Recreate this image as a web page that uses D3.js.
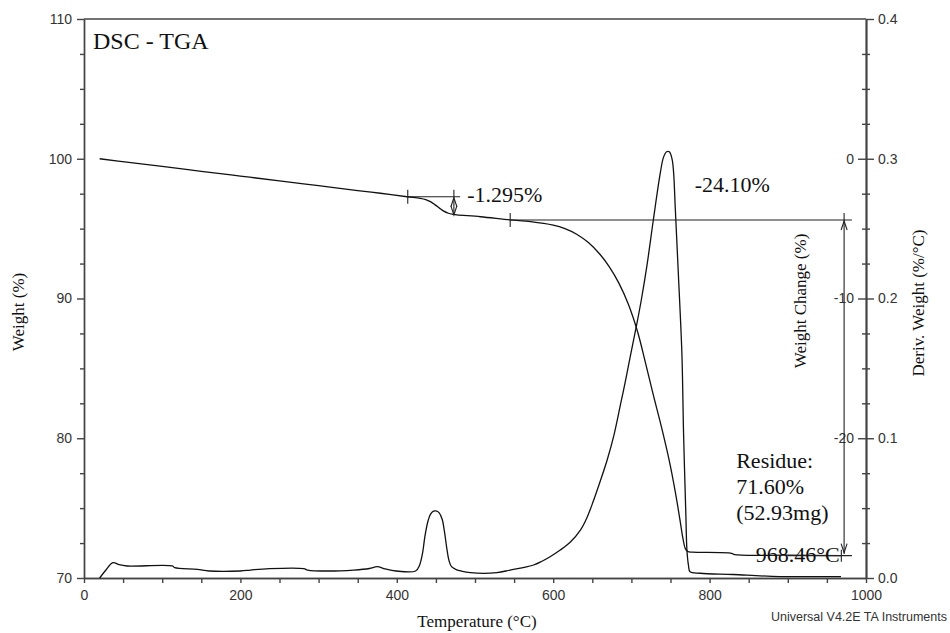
<!DOCTYPE html>
<html>
<head>
<meta charset="utf-8">
<script src="https://cdn.jsdelivr.net/npm/d3@7"></script>
<style>
  html, body { margin: 0; padding: 0; background: #fff; }
  svg { display: block; }
  .tick text { font-family: "Liberation Sans", Arial, sans-serif; font-size: 14px; fill: #333; }
  .axis path, .axis line { stroke: #444; stroke-width: 1.4; }
</style>
</head>
<body>
<svg id="chart" width="950" height="633"></svg>
<script>
// ---------- data ----------
const tgaTemp   = [20, 60, 100, 150, 200, 250, 300, 350, 379, 413, 430, 437, 443, 449, 455, 460, 466, 472, 477, 507, 545, 571, 600, 615, 630, 645, 660, 672, 684, 696, 708, 718, 728, 738, 748, 756, 762, 766, 769, 772, 778, 828, 832, 900, 968];
const tgaWeight = [100, 99.72, 99.45, 99.1, 98.76, 98.42, 98.07, 97.72, 97.53, 97.28, 97.17, 97.08, 96.93, 96.7, 96.45, 96.25, 96.1, 96.02, 95.98, 95.85, 95.62, 95.5, 95.25, 95.0, 94.6, 94.0, 93.15, 92.25, 91.1, 89.6, 87.6, 85.4, 83.1, 80.9, 78.5, 76.2, 74.2, 72.8, 72.1, 71.9, 71.85, 71.77, 71.67, 71.63, 71.6];

const dtgTemp  = [20, 27, 37, 45, 55, 113, 116, 145, 160, 200, 213, 237, 281, 286, 311, 345, 365, 375, 385, 399, 424, 429, 433, 436, 440, 443, 447, 450, 454, 458, 461, 464, 467, 470, 476, 481, 494, 528, 545, 560, 575, 585, 596, 609, 622, 635, 643, 651, 660, 669, 678, 686, 692, 698, 707, 713, 720, 728, 737, 741, 745, 748.5, 752, 754, 756, 760, 764.6, 766.7, 769.7, 771, 773, 775, 788, 830, 880, 968];
const dtgDeriv = [0, 0.005, 0.011, 0.0095, 0.0086, 0.0086, 0.0074, 0.0062, 0.005, 0.005, 0.0057, 0.0067, 0.0067, 0.0057, 0.005, 0.0057, 0.0068, 0.0081, 0.0065, 0.005, 0.005, 0.009, 0.018, 0.03, 0.041, 0.0455, 0.0478, 0.048, 0.0468, 0.042, 0.033, 0.021, 0.012, 0.0081, 0.006, 0.0052, 0.0038, 0.0038, 0.0057, 0.0073, 0.0093, 0.0118, 0.0152, 0.020, 0.0258, 0.0345, 0.043, 0.0545, 0.069, 0.0844, 0.103, 0.124, 0.140, 0.157, 0.182, 0.2, 0.224, 0.256, 0.29, 0.301, 0.305, 0.305, 0.2998, 0.29, 0.266, 0.218, 0.16, 0.1035, 0.044, 0.02, 0.009, 0.0045, 0.0034, 0.0025, 0.0012, 0.001];

const xTicks      = [0, 200, 400, 600, 800, 1000];
const weightTicks = [70, 80, 90, 100, 110];
const derivTicks  = [0, 0.1, 0.2, 0.3, 0.4];
const changeTicks = [-20, -10, 0];

// step annotations (temperature °C, weight %)
const step1 = { start: 414, end: 481, arrowT: 473, wTop: 97.28, wBot: 95.98, label: "-1.295%" };
const step2 = { start: 545, end: 982, arrowT: 972, wTop: 95.62, wBot: 71.6, label: "-24.10%" };
const markerTemps = [414, 545];
const residue = { temp: 968.46, weight: 71.6, lines: ["Residue:", "71.60%", "(52.93mg)"], tempLabel: "968.46°C" };

// ---------- scales ----------
const svg = d3.select("#chart");
const L = 84, R = 866, T = 19, B = 578;
const x  = d3.scaleLinear().domain([0, 1000]).range([L, R]);
const yW = d3.scaleLinear().domain([70, 110]).range([B, T]);
const yD = d3.scaleLinear().domain([0, 0.4]).range([B, T]);
const yC = d3.scaleLinear().domain([-30, 10]).range([B, T]);

svg.append("rect").attr("width", 950).attr("height", 633).attr("fill", "#fff");

// ---------- axes ----------
const minorW = d3.range(70, 110.01, 2.5).filter(v => v % 10 !== 0);
const minorX = d3.range(0, 1000.01, 50).filter(v => v % 200 !== 0);
const minorD = d3.range(0, 16).map(i => i * 0.025).filter((v, i) => i % 4 !== 0);
const minorC = d3.range(-30, 10.01, 2.5).filter(v => v % 10 !== 0);

function ax(axis, tx, ty) {
  return svg.append("g").attr("class", "axis").attr("transform", `translate(${tx},${ty})`).call(axis);
}
ax(d3.axisLeft(yW).tickValues(weightTicks).tickSize(7).tickPadding(5).tickSizeOuter(0), L, 0);
ax(d3.axisLeft(yW).tickValues(minorW).tickSize(4).tickFormat("").tickSizeOuter(0), L, 0);
ax(d3.axisBottom(x).tickValues(xTicks).tickSize(5).tickPadding(7).tickFormat(d3.format("d")).tickSizeOuter(0), 0, B);
ax(d3.axisBottom(x).tickValues(minorX).tickSize(5).tickFormat("").tickSizeOuter(0), 0, B);
ax(d3.axisRight(yD).tickValues(derivTicks).tickSize(8).tickPadding(4).tickFormat(d3.format(".1f")).tickSizeOuter(0), R, 0);
ax(d3.axisRight(yD).tickValues(minorD).tickSize(4).tickFormat("").tickSizeOuter(0), R, 0);
ax(d3.axisLeft(yC).tickValues(changeTicks).tickSize(8).tickPadding(4).tickFormat(d => String(d)).tickSizeOuter(0), R, 0);
ax(d3.axisLeft(yC).tickValues(minorC).tickSize(4).tickFormat("").tickSizeOuter(0), R, 0);

svg.append("line").attr("x1", L).attr("x2", R).attr("y1", T).attr("y2", T)
  .attr("stroke", "#444").attr("stroke-width", 1.4);

// ---------- curves ----------
const tga = tgaTemp.map((t, i) => [t, tgaWeight[i]]);
const dtg = dtgTemp.map((t, i) => [t, dtgDeriv[i]]);
svg.append("path").datum(tga)
  .attr("d", d3.line().x(d => x(d[0])).y(d => yW(d[1])).curve(d3.curveCatmullRom.alpha(0.5)))
  .attr("fill", "none").attr("stroke", "#111").attr("stroke-width", 1.3);
svg.append("path").datum(dtg)
  .attr("d", d3.line().x(d => x(d[0])).y(d => yD(d[1])).curve(d3.curveCatmullRom.alpha(0.5)))
  .attr("fill", "none").attr("stroke", "#111").attr("stroke-width", 1.3);

// ---------- annotations ----------
const ann = svg.append("g").attr("stroke", "#222").attr("stroke-width", 1.1).attr("fill", "none");
function arrowHead(cx, cy, dir) { // dir -1 up, +1 down
  ann.append("path").attr("d", `M${cx - 3},${cy - dir * 9} L${cx},${cy} L${cx + 3},${cy - dir * 9}`);
}
// step 1
ann.append("line").attr("x1", x(step1.start)).attr("x2", x(step1.end)).attr("y1", yW(step1.wTop)).attr("y2", yW(step1.wTop));
ann.append("line").attr("x1", x(step1.arrowT)).attr("x2", x(step1.arrowT)).attr("y1", yW(step1.wTop) - 7).attr("y2", yW(step1.wBot));
arrowHead(x(step1.arrowT), yW(step1.wTop) + 1, -1);
arrowHead(x(step1.arrowT), yW(step1.wBot), 1);
// markers
markerTemps.forEach((t, i) => {
  const w = i === 0 ? step1.wTop : step2.wTop;
  ann.append("line").attr("x1", x(t)).attr("x2", x(t)).attr("y1", yW(w) - 7).attr("y2", yW(w) + 7);
});
// step 2
ann.append("line").attr("x1", x(step2.start)).attr("x2", x(step2.end)).attr("y1", yW(step2.wTop)).attr("y2", yW(step2.wTop));
ann.append("line").attr("x1", x(step2.arrowT)).attr("x2", x(step2.arrowT)).attr("y1", yW(step2.wTop) - 7).attr("y2", yW(step2.wBot) - 2);
arrowHead(x(step2.arrowT), yW(step2.wTop) + 1, -1);
arrowHead(x(step2.arrowT), yW(step2.wBot) - 3, 1);
// residue line + marker
ann.append("line").attr("x1", x(900)).attr("x2", x(step2.end)).attr("y1", yW(residue.weight)).attr("y2", yW(residue.weight));
ann.append("line").attr("x1", x(residue.temp)).attr("x2", x(residue.temp)).attr("y1", yW(residue.weight) - 6).attr("y2", yW(residue.weight) + 6);

// ---------- text ----------
const serif = "'Liberation Serif', 'Times New Roman', serif";
const sans = "'Liberation Sans', Arial, sans-serif";
function txt(s, px, py, size, opts = {}) {
  const t = svg.append("text").attr("x", px).attr("y", py).text(s)
    .attr("font-family", opts.family || serif).attr("font-size", size)
    .attr("fill", opts.fill || "#111").attr("text-anchor", opts.anchor || "start");
  if (opts.rotate) t.attr("transform", `rotate(-90,${px},${py})`);
  return t;
}
txt("DSC - TGA", 93, 49, 24);
txt(step1.label, x(490), 202, 22);
txt(step2.label, x(781), 192, 22);
residue.lines.forEach((s, i) => txt(s, x(834), 468 + i * 26, 22));
txt(residue.tempLabel, x(859), 562, 22);

txt("Weight (%)", 24, 312, 17, { anchor: "middle", rotate: true });
txt("Temperature (°C)", 477, 627, 17, { anchor: "middle" });
txt("Weight Change (%)", 806, 301, 17, { anchor: "middle", rotate: true });
txt("Deriv. Weight (%/°C)", 924, 303, 17, { anchor: "middle", rotate: true });
txt("Universal V4.2E TA Instruments", 947, 621, 12.5, { anchor: "end", family: sans, fill: "#333" });
</script>
</body>
</html>
